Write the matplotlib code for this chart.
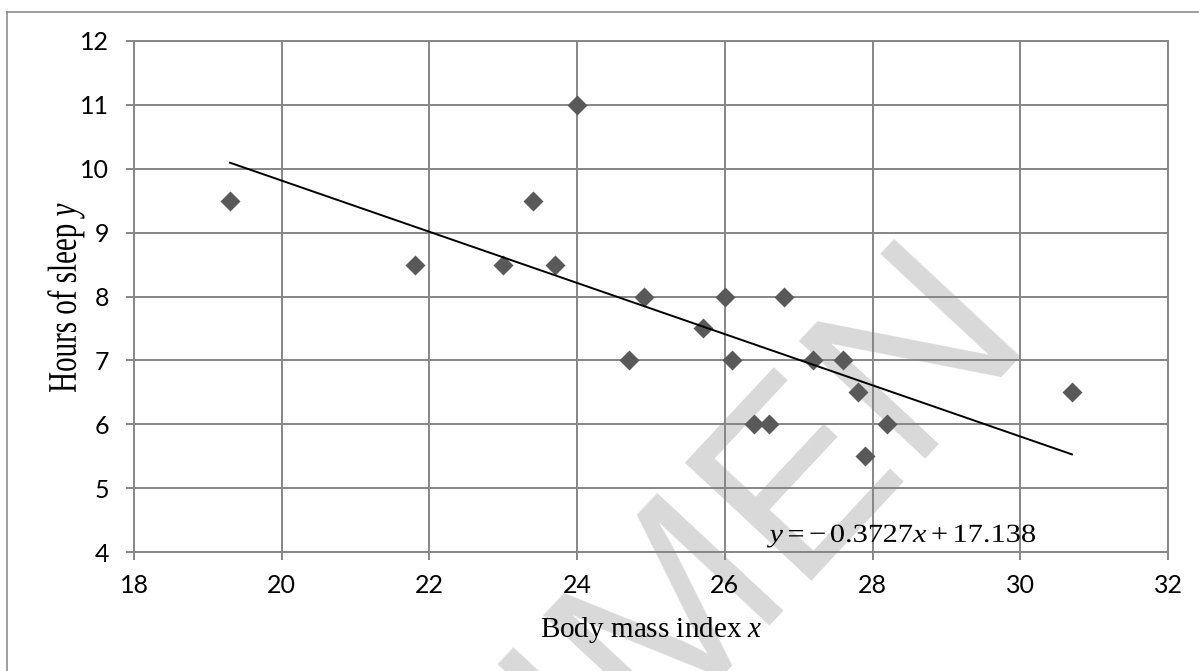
import matplotlib.pyplot as plt
import numpy as np
from matplotlib.lines import Line2D
from matplotlib.textpath import TextPath
from matplotlib.patches import PathPatch
from matplotlib.font_manager import FontProperties
from matplotlib.transforms import Affine2D, IdentityTransform

plt.rcParams['font.family'] = 'Lato'
plt.rcParams['mathtext.fontset'] = 'custom'
plt.rcParams['mathtext.rm'] = 'Liberation Serif'
plt.rcParams['mathtext.it'] = 'Liberation Serif:italic'

# data
bmi = [19.3, 21.8, 23.0, 23.4, 23.7, 24.0, 24.7, 24.9, 25.7, 26.0,
       26.1, 26.4, 26.6, 26.8, 27.2, 27.6, 27.8, 27.9, 28.2, 30.7]
sleep = [9.5, 8.5, 8.5, 9.5, 8.5, 11.0, 7.0, 8.0, 7.5, 8.0,
         7.0, 6.0, 6.0, 8.0, 7.0, 7.0, 6.5, 5.5, 6.0, 6.5]
x_ticks = [18, 20, 22, 24, 26, 28, 30, 32]
y_ticks = [4, 5, 6, 7, 8, 9, 10, 11, 12]
equation = r'$y = -\,0.3727x + 17.138$'
x_label = 'Body mass index $x$'
y_label = 'Hours of sleep $y$'

grid_col = '#868686'
W, H = 1199, 671
serif = FontProperties(family='Liberation Serif')


def squeezed_text(s, size, left, baseline, width=None, sy=1.0, rot=0):
    # text drawn as a path so it can be stretched like the original
    tp = TextPath((0, 0), s, size=size, prop=serif)
    ext = tp.get_extents()
    sx = width / ext.width if width else 1.0
    tr = (Affine2D().translate(-ext.x0, 0).scale(sx, sy)
          .rotate_deg(rot).translate(left, H - baseline))
    fig.add_artist(PathPatch(tr.transform_path(tp), transform=IdentityTransform(),
                             fc='black', lw=0, zorder=5))


fig = plt.figure(figsize=(W / 100, H / 100), dpi=100)
ax = fig.add_axes([134 / W, (H - 552) / H, (1168 - 134) / W, (552 - 41) / H])
ax.set_facecolor('none')

ax.plot(bmi, sleep, 'D', ms=10.3, color='#595959', mec='none', zorder=3)

# linear trendline through the points
slope, intercept = np.polyfit(bmi, sleep, 1)
tx = np.array([min(bmi), max(bmi)])
ax.plot(tx, slope * tx + intercept, color='black', lw=1.4, zorder=4)

ax.set_xlim(18, 32)
ax.set_ylim(4, 12)
ax.set_xticks(x_ticks)
ax.set_yticks(y_ticks)
ax.grid(True, color=grid_col, lw=1.4)
ax.set_axisbelow(True)
for s in ax.spines.values():
    s.set_color(grid_col)
    s.set_linewidth(1.4)
ax.tick_params(direction='out', length=5.8, width=1.4, color=grid_col,
               labelsize=18)
ax.tick_params(axis='y', pad=12)
ax.tick_params(axis='x', pad=10)

ax.text(0.5, (552 - 637) / 511, x_label, transform=ax.transAxes,
        ha='center', va='baseline', fontsize=21, family='Liberation Serif')

squeezed_text(equation, 26, 767, 542, width=268)
# y label is drawn taller than usual in the original (rotated, so x/y swap)
squeezed_text(y_label, 29, 76, 392, sy=1.4, rot=90)

# watermark
fig.text(1032 / W, 1 - 333 / H, 'SPECIMEN', fontsize=180, family='Liberation Sans',
         color='#d9d9d9', rotation=47, rotation_mode='anchor',
         ha='right', va='baseline', zorder=-1)

# outer frame (left and top edges visible)
fig.add_artist(Line2D([7 / W, 7 / W], [0, 1 - 12 / H], transform=fig.transFigure,
                      color='#8c8c8c', lw=1.2))
fig.add_artist(Line2D([7 / W, 1], [1 - 12 / H, 1 - 12 / H], transform=fig.transFigure,
                      color='#8c8c8c', lw=1.2))

fig.savefig('out.png', dpi=100)
